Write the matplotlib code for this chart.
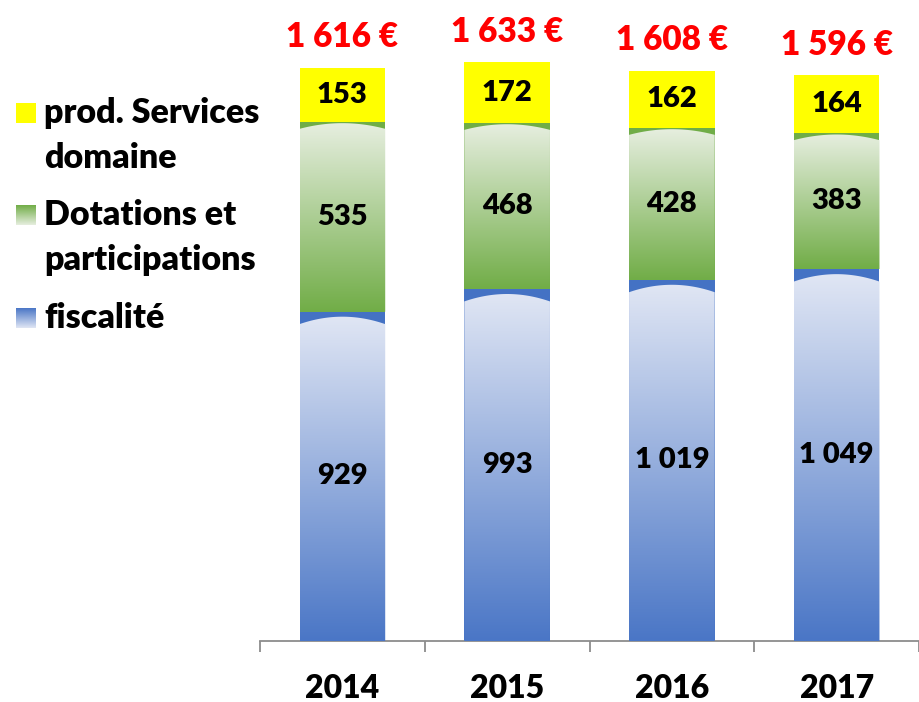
import numpy as np
import matplotlib.pyplot as plt
from matplotlib.path import Path
from matplotlib.patches import PathPatch, Rectangle
from matplotlib.colors import to_rgb

plt.rcParams['font.family'] = ['Lato', 'DejaVu Sans']
plt.rcParams['font.weight'] = 'heavy'

years = ['2014', '2015', '2016', '2017']
fiscalite = [929, 993, 1019, 1049]
dotations = [535, 468, 428, 383]
services = [153, 172, 162, 164]
totals = ['1 616 €', '1 633 €', '1 608 €', '1 596 €']
value_labels = {
    'fiscalite': ['929', '993', '1 019', '1 049'],
    'dotations': ['535', '468', '428', '383'],
    'services': ['153', '172', '162', '164'],
}
legend_labels = [['prod. Services', 'domaine'], ['Dotations et', 'participations'], ['fiscalité']]

blue_top, blue_bot, blue_band = '#e0e6f4', '#4a76c6', '#4472c4'
green_top, green_bot, green_band = '#e6eedf', '#71ad47', '#70ad47'
yellow = '#ffff00'

W, H = 919, 702
fig = plt.figure(figsize=(W / 100, H / 100), dpi=100)
ax = fig.add_axes([260 / W, 61 / H, 659 / W, 638 / H])
ax.set_xlim(-0.5, 3.47)
ax.set_ylim(0, 1800)


def gradient(c_top, c_bot, n=256):
    t = np.linspace(0, 1, n)[:, None]
    a, b = np.array(to_rgb(c_bot)), np.array(to_rgb(c_top))
    return (a + (b - a) * t)[:, None, :]


def grad_segment(ax, x, w, y0, y1, c_top, c_bot, band_c, band, drop):
    x0, x1 = x - w / 2, x + w / 2
    ax.add_patch(Rectangle((x0, y0), w, y1 - y0, color=band_c, lw=0, zorder=2))
    top = y1 - band
    edge = top - drop
    u = np.linspace(-1, 1, 60)
    verts = [(x0, y0)]
    verts += [(x + u_ * w / 2, edge + drop * (1 - u_ ** 2)) for u_ in u]
    verts += [(x1, y0), (x0, y0)]
    clip = PathPatch(Path(verts), transform=ax.transData, fc='none', ec='none')
    ax.add_patch(clip)
    im = ax.imshow(gradient(c_top, c_bot), extent=[x0, x1, y0, top], origin='lower',
                   aspect='auto', interpolation='bilinear', zorder=3)
    im.set_clip_path(clip)


w = 0.52
xs = np.arange(len(years))
for i in xs:
    f, d, s = fiscalite[i], dotations[i], services[i]
    grad_segment(ax, i, w, 0, f, blue_top, blue_bot, blue_band, 14, 21)
    grad_segment(ax, i, w, f, f + d, green_top, green_bot, green_band, 3, 16)
    ax.bar(i, s, w, bottom=f + d, color=yellow, zorder=3)
    ax.text(i, f / 2, value_labels['fiscalite'][i], ha='center', va='center', fontsize=21, zorder=5)
    ax.text(i, f + d / 2, value_labels['dotations'][i], ha='center', va='center', fontsize=21, zorder=5)
    ax.text(i, f + d + s / 2, value_labels['services'][i], ha='center', va='center', fontsize=21, zorder=5)
    ax.annotate(totals[i], (i, f + d + s), xytext=(0, 22), textcoords='offset points',
                ha='center', va='center', color='#ff0000', fontsize=24)

for sp in ['top', 'right', 'left']:
    ax.spines[sp].set_visible(False)
ax.spines['bottom'].set_color('#8c8c8c')
ax.spines['bottom'].set_linewidth(1.3)
ax.set_yticks([])
ax.set_xticks(xs)
ax.set_xticklabels(years, fontsize=23)
ax.tick_params(axis='x', which='major', length=0, pad=24)
ax.set_xticks(np.arange(-0.5, 4, 1), minor=True)
ax.tick_params(axis='x', which='minor', length=8, width=1.3, color='#8c8c8c')

# legend drawn manually on an overlay
lg = fig.add_axes([0, 0, 1, 1])
lg.axis('off')
lg.patch.set_alpha(0)
entries = [(113, yellow, yellow), (215, green_top, green_bot), (318, blue_top, blue_bot)]
for (yc, ct, cb), lines in zip(entries, legend_labels):
    lg.imshow(gradient(ct, cb), extent=[16, 36, yc - 10, yc + 10], origin='lower',
              aspect='auto', interpolation='bilinear')
    for k, line in enumerate(lines):
        lg.text(44, yc + 45 * k, line, ha='left', va='center', fontsize=24.5)
lg.set_xlim(0, W)
lg.set_ylim(H, 0)

fig.savefig('out.png', dpi=100)
